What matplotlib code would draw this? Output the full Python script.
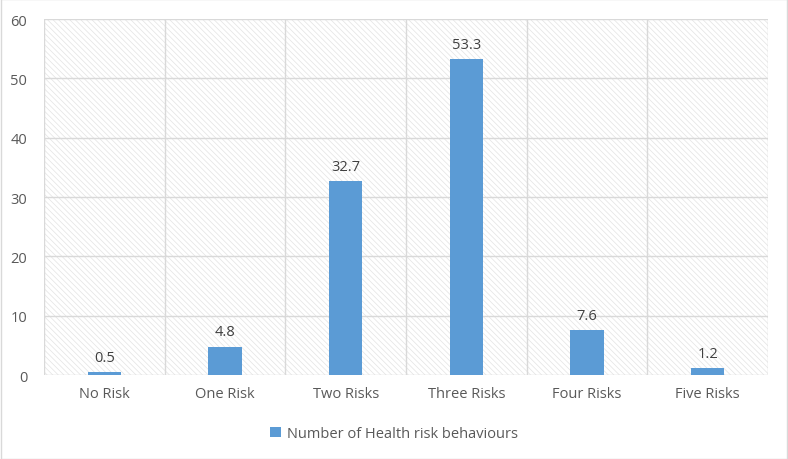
import matplotlib
matplotlib.use("Agg")
import matplotlib.pyplot as plt
from matplotlib.patches import Rectangle

categories = ["No Risk", "One Risk", "Two Risks", "Three Risks", "Four Risks", "Five Risks"]
values = [0.5, 4.8, 32.7, 53.3, 7.6, 1.2]
series_name = "Number of Health risk behaviours"

plt.rcParams['font.family'] = ['Open Sans', 'DejaVu Sans']
plt.rcParams['hatch.color'] = '#dedede'
plt.rcParams['hatch.linewidth'] = 0.5

fig = plt.figure(figsize=(7.88, 4.6), dpi=100)
fig.patch.set_facecolor('white')
fig.patches.append(Rectangle((0.001, 0.001), 0.998, 0.998, transform=fig.transFigure,
                             fill=False, edgecolor='#d9d9d9', linewidth=1))
ax = fig.add_axes([0.0558, 0.1826, 0.9188, 0.7739])

n = len(categories)
ax.set_xlim(-0.5, n - 0.5)
ax.set_ylim(0, 60)

# hatched background
ax.add_patch(Rectangle((0, 0), 1, 1, transform=ax.transAxes, facecolor='white',
                       edgecolor='#e3e3e3', hatch='\\\\\\\\\\\\', linewidth=0, zorder=0))

for y in range(0, 61, 10):
    ax.axhline(y, color='#d9d9d9', linewidth=1, zorder=1)
for x in [i + 0.5 for i in range(-1, n)]:
    ax.axvline(x, color='#d9d9d9', linewidth=1, zorder=1)

bars = ax.bar(range(n), values, width=0.275, color='#5b9bd5', zorder=3, label=series_name)
for i, v in enumerate(values):
    ax.text(i, v + 1.2, f"{v}", ha='center', va='bottom', fontsize=10.5, color='#404040', zorder=4)

for s in ax.spines.values():
    s.set_visible(False)
ax.set_xticks(range(n))
ax.set_xticklabels(categories, fontsize=10.5, color='#595959')
ax.set_yticks(range(0, 61, 10))
ax.tick_params(axis='y', labelsize=10.5, labelcolor='#595959', length=0, pad=12)
ax.tick_params(axis='x', length=0, pad=8)

leg = fig.legend(handles=[bars], labels=[series_name], loc='center', bbox_to_anchor=(0.5, 0.055),
                 frameon=False, fontsize=10.5, handlelength=0.7, handleheight=0.7, handletextpad=0.4)
for t in leg.get_texts():
    t.set_color('#595959')

fig.savefig('out.png', dpi=100)
